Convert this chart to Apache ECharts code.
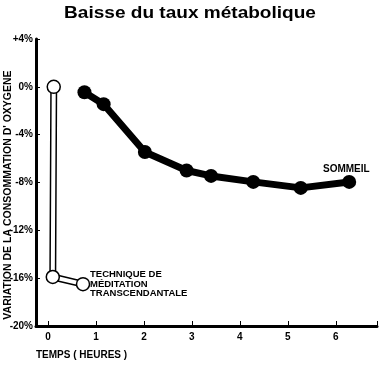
<!DOCTYPE html>
<html><head><meta charset="utf-8">
<script src="https://cdn.jsdelivr.net/npm/echarts@6/dist/echarts.min.js"></script>
<style>html,body{margin:0;padding:0;background:#fff}#c{width:384px;height:367px}</style>
</head><body><div id="c"></div>
<script>
const titleText = 'Baisse du taux métabolique';
const yAxisName = "VARIATION DE LA CONSOMMATION D' OXYGENE";
const xAxisName = 'TEMPS ( HEURES )';
const xTickValues = [0, 1, 2, 3, 4, 5, 6];
const yTickValues = [-20, -16, -12, -8, -4, 0, 4];
const meditationHours = [0.12, 0.10, 0.73];
const meditationValues = [0, -15.9, -16.5];
const sleepHours = [0.76, 1.16, 2.02, 2.89, 3.40, 4.28, 5.27, 6.28];
const sleepValues = [-0.45, -1.45, -5.45, -7.0, -7.45, -7.95, -8.45, -7.95];
const sleepLabel = 'SOMMEIL';
const meditationLabel = ['TECHNIQUE DE', 'MÉDITATION', 'TRANSCENDANTALE'];

const zip = (a, b) => a.map((v, i) => [v, b[i]]);
const F = 'Liberation Sans, Arial, sans-serif';
const chart = echarts.init(document.getElementById('c'));
chart.setOption({
  animation: false,
  backgroundColor: '#fff',
  grid: { left: 36, right: 7, top: 39, bottom: 41 },
  xAxis: { type: 'value', min: -0.25, max: 6.86,
    axisLine: { onZero: false, lineStyle: { color: '#000', width: 3 } },
    axisTick: { inside: true, length: 5, customValues: xTickValues.concat([6.86]), lineStyle: { color: '#000', width: 1 } },
    axisLabel: { customValues: xTickValues, margin: 6, fontFamily: F, fontWeight: 'bold', fontSize: 10, color: '#000' },
    splitLine: { show: false } },
  yAxis: { type: 'value', min: -20, max: 4, interval: 4,
    axisLine: { onZero: false, lineStyle: { color: '#000', width: 3 } },
    axisTick: { inside: true, length: 4, customValues: yTickValues, lineStyle: { color: '#000', width: 1 } },
    axisLabel: { margin: 3, fontFamily: F, fontWeight: 'bold', fontSize: 10, color: '#000',
      formatter: v => (v > 0 ? '+' : '') + v + '%' },
    splitLine: { show: false } },
  graphic: [
    { type: 'text', x: 190, y: 13, scaleX: 1.12,
      style: { text: titleText, font: 'bold 17px ' + F, fill: '#000', align: 'center', verticalAlign: 'middle' } },
    { type: 'text', x: 8, y: 195, rotation: Math.PI / 2,
      style: { text: yAxisName, font: 'bold 10.5px ' + F, fill: '#000', align: 'center', verticalAlign: 'middle' } },
    { type: 'text', x: 36, y: 355,
      style: { text: xAxisName, font: 'bold 10px ' + F, fill: '#000', align: 'left', verticalAlign: 'middle' } },
    { type: 'text', x: 323, y: 169,
      style: { text: sleepLabel, font: 'bold 10px ' + F, fill: '#000', align: 'left', verticalAlign: 'middle' } },
    { type: 'text', x: 90, y: 284,
      style: { text: meditationLabel.join('\n'), lineHeight: 9.5, font: 'bold 9.5px ' + F, fill: '#000', align: 'left', verticalAlign: 'middle' } }
  ],
  series: [
    { type: 'line', data: zip(sleepHours, sleepValues), symbol: 'circle', symbolSize: 14,
      lineStyle: { color: '#000', width: 7 }, itemStyle: { color: '#000' } },
    { type: 'line', data: zip(meditationHours, meditationValues), symbol: 'none',
      lineStyle: { color: '#000', width: 7 } },
    { type: 'line', data: zip(meditationHours, meditationValues), symbol: 'circle', symbolSize: 13,
      lineStyle: { color: '#fff', width: 4 },
      itemStyle: { color: '#fff', borderColor: '#000', borderWidth: 1.5 } }
  ]
});
</script></body></html>
